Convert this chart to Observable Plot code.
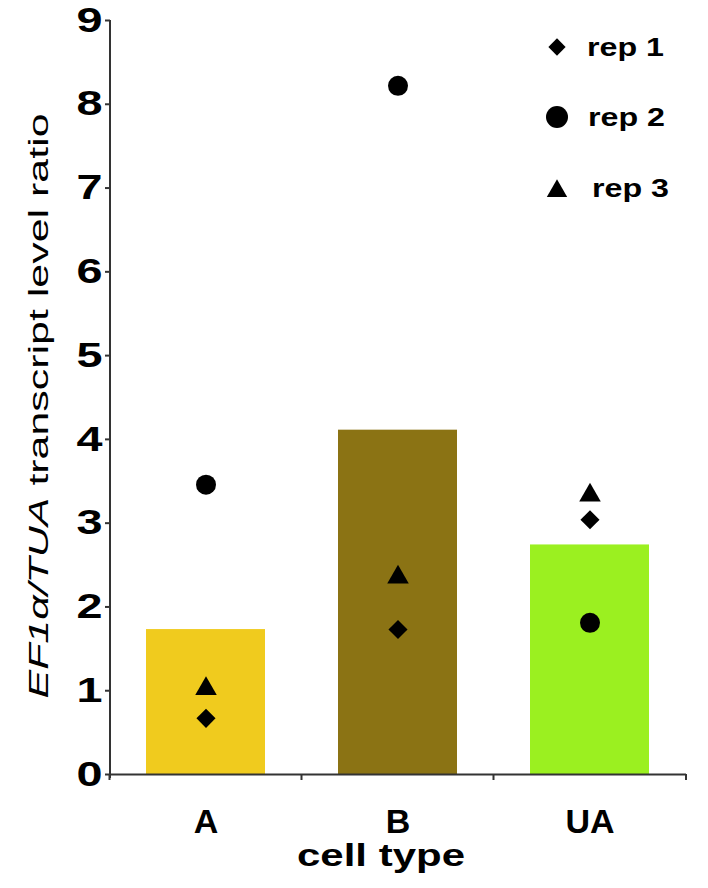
<!DOCTYPE html>
<html><head><meta charset="utf-8">
<script src="https://cdn.jsdelivr.net/npm/d3@7"></script>
<script src="https://cdn.jsdelivr.net/npm/@observablehq/plot@0.6"></script>
<style>body{margin:0;background:#fff} #chart{width:708px;height:888px}</style>
</head><body><div id="chart"></div>
<script>
const categories = ["A", "B", "UA"];
const barValues = [1.73, 4.11, 2.74];
const barColors = ["#F0CB1E", "#8B7314", "#9BF020"];
const rep1 = [0.67, 1.73, 3.04];
const rep2 = [3.46, 8.22, 1.81];
const rep3 = [1.06, 2.39, 3.37];
const yTicks = [0, 1, 2, 3, 4, 5, 6, 7, 8, 9];
const seriesNames = ["rep 1", "rep 2", "rep 3"];
const seriesSymbols = ["diamond2", "circle", "triangle"];
const xTitle = "cell type";
const yTitleItalic = "EF1α/TUA";
const yTitleRest = " transcript level ratio";

const bars = categories.map((c, i) => ({cat: c, value: barValues[i]}));
const pts = arr => categories.map((c, i) => ({cat: c, value: arr[i]}));
const font = "'Liberation Sans', Arial, Helvetica, sans-serif";
const axisColor = "#333";

const plot = Plot.plot({
  width: 708, height: 888,
  marginLeft: 110, marginRight: 22, marginTop: 20, marginBottom: 114,
  style: {fontFamily: font, background: "#fff", color: "#000"},
  x: {domain: categories, paddingInner: 0.38, paddingOuter: 0.19, axis: null},
  y: {domain: [0, 9], axis: null},
  color: {domain: categories, range: barColors},
  marks: [
    Plot.barY(bars, {x: "cat", y: "value", fill: "cat"}),
    Plot.ruleY([0], {stroke: axisColor, strokeWidth: 2}),
    Plot.axisY({ticks: yTicks, tickSize: 5, tickPadding: 3, fontSize: 35, fontWeight: "bold",
      stroke: axisColor, strokeWidth: 2, label: null, tickFormat: d => String(d)}),
    Plot.axisX({tickSize: 0, tickPadding: 34, fontSize: 34, fontWeight: "bold", label: null}),
    Plot.dot(pts(rep1), {x: "cat", y: "value", symbol: seriesSymbols[0], r: 8.6, fill: "#000", stroke: "none"}),
    Plot.dot(pts(rep2), {x: "cat", y: "value", symbol: seriesSymbols[1], r: 10, fill: "#000", stroke: "none"}),
    Plot.dot(pts(rep3), {x: "cat", y: "value", symbol: seriesSymbols[2], r: 8, dy: 3, fill: "#000", stroke: "none"})
  ]
});
document.getElementById("chart").appendChild(plot);

const svg = d3.select(plot);
const xs = plot.scale("x"), ys = plot.scale("y");
const y0 = ys.apply(0), yTop = ys.apply(9);
const xLeft = xs.range[0], xRight = xs.range[1];

// stretch y tick labels like the reference
svg.selectAll("text").filter(function(){ return /^[0-9]$/.test(this.textContent); })
  .attr("textLength", 26).attr("lengthAdjust", "spacingAndGlyphs");

// left axis line
svg.append("line").attr("x1", xLeft).attr("x2", xLeft).attr("y1", yTop).attr("y2", y0 + 4)
  .attr("stroke", axisColor).attr("stroke-width", 2);
// category boundary ticks
const bounds = categories.map(c => xs.apply(c) + xs.bandwidth / 2 - xs.step / 2);
bounds.push(xRight);
bounds.forEach(b => svg.append("line").attr("x1", b).attr("x2", b).attr("y1", y0).attr("y2", y0 + 6)
  .attr("stroke", axisColor).attr("stroke-width", 2));

// x title
svg.append("text").attr("x", 381).attr("y", 866).attr("text-anchor", "middle")
  .attr("font-family", font).attr("font-size", 32).attr("font-weight", "bold")
  .attr("textLength", 168).attr("lengthAdjust", "spacingAndGlyphs").text(xTitle);

// y title
const yt = svg.append("text").attr("transform", "translate(48,406) rotate(-90)")
  .attr("text-anchor", "middle").attr("font-family", font).attr("font-size", 27)
  .attr("textLength", 585).attr("lengthAdjust", "spacingAndGlyphs");
yt.append("tspan").attr("font-style", "italic").text(yTitleItalic);
yt.append("tspan").text(yTitleRest);

// legend
const symMap = {diamond2: d3.symbolDiamond2 || d3.symbolDiamond, circle: d3.symbolCircle, triangle: d3.symbolTriangle};
const symSize = {diamond2: 190, circle: Math.PI * 11 * 11, triangle: 180};
const legY = [47, 117, 188];
const legTX = [587, 588, 592];
seriesNames.forEach((name, i) => {
  const s = seriesSymbols[i];
  svg.append("path").attr("d", d3.symbol(symMap[s], symSize[s])())
    .attr("transform", `translate(557,${legY[i] + (s === "triangle" ? 3 : 0)})`).attr("fill", "#000");
  svg.append("text").attr("x", legTX[i]).attr("y", legY[i] + 9).attr("text-anchor", "start")
    .attr("font-family", font).attr("font-size", 25).attr("font-weight", "bold")
    .attr("textLength", 77).attr("lengthAdjust", "spacingAndGlyphs").text(name);
});
</script>
</body></html>
